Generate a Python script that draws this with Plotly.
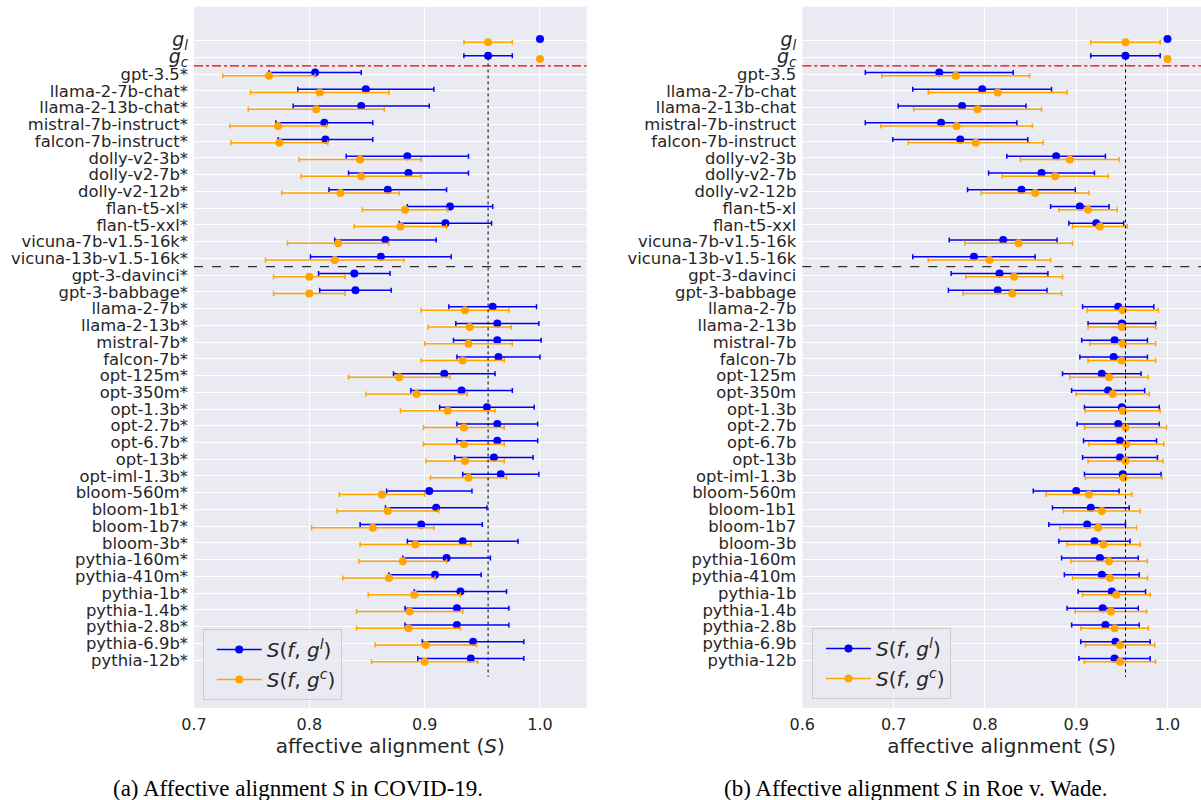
import numpy as np
import plotly.graph_objects as go

# ---------------- data ----------------
models = [
    "gpt-3.5", "llama-2-7b-chat", "llama-2-13b-chat", "mistral-7b-instruct",
    "falcon-7b-instruct", "dolly-v2-3b", "dolly-v2-7b", "dolly-v2-12b",
    "flan-t5-xl", "flan-t5-xxl", "vicuna-7b-v1.5-16k", "vicuna-13b-v1.5-16k",
    "gpt-3-davinci", "gpt-3-babbage", "llama-2-7b", "llama-2-13b", "mistral-7b",
    "falcon-7b", "opt-125m", "opt-350m", "opt-1.3b", "opt-2.7b", "opt-6.7b",
    "opt-13b", "opt-iml-1.3b", "bloom-560m", "bloom-1b1", "bloom-1b7", "bloom-3b",
    "pythia-160m", "pythia-410m", "pythia-1b", "pythia-1.4b", "pythia-2.8b",
    "pythia-6.9b", "pythia-12b",
]
ref_labels = ["<span style='font-size:19px'><i>g</i><sub><i>l</i></sub></span>",
              "<span style='font-size:19px'><i>g</i><sub><i>c</i></sub></span>"]

# COVID-19: S(f, g^l) and S(f, g^c)
covid_gl = [0.805, 0.849, 0.845, 0.813, 0.814, 0.885, 0.886, 0.868, 0.922, 0.918,
            0.866, 0.862, 0.839, 0.840, 0.959, 0.963, 0.963, 0.964, 0.917, 0.932,
            0.954, 0.963, 0.963, 0.960, 0.966, 0.904, 0.910, 0.897, 0.933, 0.919,
            0.909, 0.931, 0.928, 0.928, 0.942, 0.940]
covid_gl_err = [0.040, 0.059, 0.059, 0.042, 0.041, 0.053, 0.052, 0.051, 0.037, 0.040,
                0.044, 0.061, 0.031, 0.031, 0.038, 0.036, 0.038, 0.036, 0.044, 0.044,
                0.041, 0.035, 0.035, 0.034, 0.033, 0.037, 0.044, 0.053, 0.048, 0.038,
                0.040, 0.040, 0.045, 0.045, 0.044, 0.046]
covid_gc = [0.765, 0.809, 0.806, 0.773, 0.774, 0.844, 0.845, 0.827, 0.883, 0.879,
            0.825, 0.822, 0.800, 0.800, 0.935, 0.939, 0.938, 0.933, 0.878, 0.893,
            0.920, 0.934, 0.934, 0.935, 0.938, 0.863, 0.868, 0.855, 0.892, 0.881,
            0.869, 0.891, 0.887, 0.886, 0.901, 0.900]
covid_gc_err = [0.040, 0.060, 0.059, 0.042, 0.042, 0.053, 0.052, 0.051, 0.037, 0.040,
                0.044, 0.060, 0.031, 0.031, 0.038, 0.036, 0.038, 0.036, 0.044, 0.044,
                0.041, 0.035, 0.035, 0.034, 0.033, 0.037, 0.044, 0.053, 0.048, 0.038,
                0.040, 0.040, 0.046, 0.045, 0.044, 0.046]
covid_ref = 0.955       # S(g_l, g_c)
covid_ref_err = 0.021

# Roe v. Wade
roe_gl = [0.750, 0.797, 0.775, 0.752, 0.773, 0.878, 0.862, 0.840, 0.904, 0.922,
          0.820, 0.788, 0.816, 0.814, 0.946, 0.950, 0.942, 0.941, 0.928, 0.935,
          0.950, 0.946, 0.948, 0.948, 0.951, 0.900, 0.916, 0.912, 0.920, 0.926,
          0.928, 0.939, 0.929, 0.932, 0.943, 0.942]
roe_gl_err = [0.081, 0.076, 0.070, 0.083, 0.074, 0.054, 0.058, 0.059, 0.032, 0.030,
              0.059, 0.067, 0.053, 0.054, 0.039, 0.037, 0.036, 0.037, 0.043, 0.040,
              0.041, 0.045, 0.040, 0.041, 0.042, 0.047, 0.042, 0.042, 0.039, 0.042,
              0.041, 0.037, 0.039, 0.037, 0.038, 0.039]
roe_gc = [0.768, 0.814, 0.792, 0.769, 0.790, 0.893, 0.877, 0.855, 0.913, 0.926,
          0.837, 0.805, 0.832, 0.830, 0.951, 0.950, 0.951, 0.950, 0.936, 0.940,
          0.951, 0.954, 0.955, 0.954, 0.952, 0.914, 0.928, 0.924, 0.930, 0.936,
          0.937, 0.944, 0.938, 0.942, 0.948, 0.948]
roe_gc_err = [0.081, 0.076, 0.070, 0.083, 0.074, 0.054, 0.058, 0.059, 0.032, 0.030,
              0.059, 0.067, 0.053, 0.054, 0.039, 0.037, 0.036, 0.037, 0.043, 0.040,
              0.041, 0.045, 0.041, 0.041, 0.042, 0.047, 0.042, 0.042, 0.040, 0.042,
              0.041, 0.037, 0.039, 0.037, 0.038, 0.039]
roe_ref = 0.954
roe_ref_err = 0.038

x_ticks_covid = [0.7, 0.8, 0.9, 1.0]
x_ticks_roe = [0.6, 0.7, 0.8, 0.9, 1.0]
captions = ["(a) Affective alignment <i>S</i> in COVID-19.",
            "(b) Affective alignment <i>S</i> in Roe v. Wade."]
legend_names = ["<i>S</i>(<i>f</i>, <i>g</i><sup><i>l</i></sup>)",
                "<i>S</i>(<i>f</i>, <i>g</i><sup><i>c</i></sup>)"]

BLUE = "#0000ff"
ORANGE = "#ffa500"
TXT = "#262626"
FONT = "DejaVu Sans"

n_rows = len(models) + 2
rows = np.arange(n_rows)

fig = go.Figure()


def add_panel(gl, gl_err, gc, gc_err, ref, ref_err, xa, ya, leg):
    xb = [1.0, ref] + list(gl)
    eb = [0.0, ref_err] + list(gl_err)
    xo = [ref, 1.0] + list(gc)
    eo = [ref_err, 0.0] + list(gc_err)
    fig.add_trace(go.Scatter(
        x=xb, y=rows - 0.1, mode="markers", xaxis=xa, yaxis=ya,
        marker=dict(color=BLUE, size=8),
        error_x=dict(type="data", array=eb, color=BLUE, thickness=1.5, width=2.5),
        showlegend=False))
    fig.add_trace(go.Scatter(
        x=xo, y=rows + 0.1, mode="markers", xaxis=xa, yaxis=ya,
        marker=dict(color=ORANGE, size=8),
        error_x=dict(type="data", array=eo, color=ORANGE, thickness=1.5, width=2.5),
        showlegend=False))
    # legend entries
    for i, (name, col) in enumerate(zip(legend_names, [BLUE, ORANGE])):
        fig.add_trace(go.Scatter(
            x=[None], y=[None], mode="lines+markers", xaxis=xa, yaxis=ya,
            name=name, legend=leg, legendgroup=leg + str(i),
            marker=dict(color=col, size=8), line=dict(color=col, width=1.5)))


add_panel(covid_gl, covid_gl_err, covid_gc, covid_gc_err, covid_ref, covid_ref_err,
          "x", "y", "legend")
add_panel(roe_gl, roe_gl_err, roe_gc, roe_gc_err, roe_ref, roe_ref_err,
          "x2", "y2", "legend2")

labels_covid = ref_labels + [m + "*" for m in models]
labels_roe = ref_labels + models

ydom = [1 - 708 / 800, 1 - 6.7 / 800]
yrange = [39.86, -2.03]

common_x = dict(showgrid=True, gridcolor="white", gridwidth=1, zeroline=False,
                showline=False, ticks="", tickformat=".1f", automargin=False,
                tickfont=dict(family=FONT, size=16, color=TXT),
                ticklabelstandoff=5)
common_y = dict(showgrid=True, gridcolor="white", gridwidth=1, zeroline=False,
                showline=False, ticks="", range=yrange, domain=ydom,
                tickvals=list(rows), automargin=False,
                tickfont=dict(family=FONT, size=16.4, color=TXT),
                ticklabelstandoff=5)
xtitle = dict(text="affective alignment (<i>S</i>)",
              font=dict(family=FONT, size=20, color=TXT), standoff=2)

legend_common = dict(xanchor="left", yanchor="top",
                     bgcolor="rgba(234,234,242,0.8)", bordercolor="#cccccc",
                     borderwidth=1, font=dict(family=FONT, size=20, color=TXT),
                     itemwidth=45, indentation=8, tracegroupgap=1)

fig.update_layout(
    width=1201, height=800,
    margin=dict(l=0, r=0, t=0, b=0, autoexpand=False),
    paper_bgcolor="white", plot_bgcolor="#eaeaf2",
    xaxis=dict(domain=[194 / 1201, 586.7 / 1201], range=[0.7, 1.0405],
               tickvals=x_ticks_covid, anchor="y", title=xtitle, **common_x),
    yaxis=dict(anchor="x", ticktext=labels_covid, **common_y),
    xaxis2=dict(domain=[802.3 / 1201, 1.0], range=[0.6, 1.0367],
                tickvals=x_ticks_roe, anchor="y2", title=xtitle, **common_x),
    yaxis2=dict(anchor="x2", ticktext=labels_roe, **common_y),
    legend=dict(x=202.7 / 1201, y=1 - 629 / 800, **legend_common),
    legend2=dict(x=812 / 1201, y=1 - 628 / 800, **legend_common),
)

shapes = []
for xa, ya, ref in [("x", "y", covid_ref), ("x2", "y2", roe_ref)]:
    shapes.append(dict(type="line", xref=xa, yref=ya, x0=ref, x1=ref, y0=1, y1=38,
                       line=dict(color="black", width=1, dash="dot")))
    shapes.append(dict(type="line", xref=xa + " domain", yref=ya, x0=0, x1=1,
                       y0=1.5, y1=1.5,
                       line=dict(color="#ee0000", width=1.2, dash="dashdot")))
    shapes.append(dict(type="line", xref=xa + " domain", yref=ya, x0=0, x1=1,
                       y0=13.5, y1=13.5,
                       line=dict(color="black", width=1, dash="dash")))
fig.update_layout(shapes=shapes)

for cx, txt in zip([297.5 / 1201, 915.7 / 1201], captions):
    fig.add_annotation(x=cx, y=12 / 800, xref="paper", yref="paper",
                       xanchor="center", yanchor="middle", showarrow=False,
                       text=txt, font=dict(family="Liberation Serif", size=23,
                                           color="black"))

fig.write_html(
    "out.html",
    config={"displayModeBar": False},
    post_script="document.body.style.margin='0';document.body.style.overflow='hidden';",
)
